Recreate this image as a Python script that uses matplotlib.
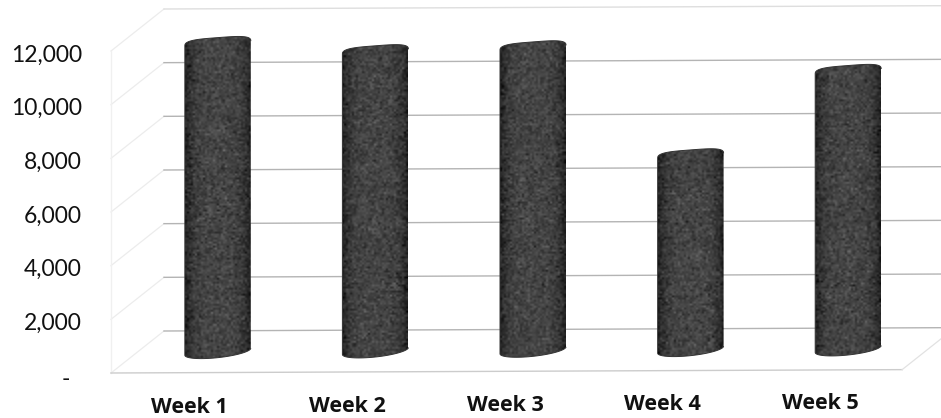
import numpy as np
import matplotlib
matplotlib.use('Agg')
import matplotlib.pyplot as plt
from matplotlib.patches import PathPatch
from matplotlib.path import Path
from matplotlib.transforms import ScaledTranslation

# data
weeks = ['Week 1', 'Week 2', 'Week 3', 'Week 4', 'Week 5']
values = [11480, 11150, 11270, 7220, 10340]
y_ticks = [0, 2000, 4000, 6000, 8000, 10000, 12000]
y_labels = ['-  ', '2,000', '4,000', '6,000', '8,000', '10,000', '12,000']

W, H = 941, 418
fig = plt.figure(figsize=(W / 100, H / 100), dpi=100)
# front plane of the fake 3d box
ax = fig.add_axes([111 / W, 1 - 373 / H, 788 / W, 322 / H])
ax.set_xlim(-0.5, 4.5)
ax.set_ylim(0, 12000)

# pixel sizes turned into data units
px_x = 5 / 788
px_y = 12000 / 322
depth_x = 53 * px_x
depth_y = 42 * px_y
tilt = 25  # the whole scan leans a little


def proj(x, v, d=0.0):
    # x, value and depth (0 front, 1 back) to axes data coords
    return x + d * depth_x, v + d * depth_y + tilt * (x + 0.5)


# walls and floor
x0, x1 = -0.5, 4.5
for v in y_ticks:
    xa, ya = proj(x0, v, 0)
    xb, yb = proj(x0, v, 1)
    ax.plot([xa, xb], [ya, yb], color='#ececec', lw=0.9, clip_on=False, zorder=1)
    xc, yc = proj(x1, v, 1)
    col = '#dedede' if v == 12000 else '#b4b4b4'
    ax.plot([xb, xc], [yb, yc], color=col, lw=1.0, clip_on=False, zorder=1)
xa, ya = proj(x0, 0, 0)
xb, yb = proj(x0, 12000, 0)
ax.plot([xa, xb], [ya, yb], color='#f0f0f0', lw=1, clip_on=False, zorder=1)
xb, yb = proj(x1 + 0.02, 0, 0)
ax.plot([xa, xb], [ya, yb], color='#cccccc', lw=1.0, clip_on=False, zorder=1)
xc, yc = proj(x1 + 0.02, 0, 1)
ax.plot([xb, xc], [yb, yc], color='#e2e2e2', lw=0.9, clip_on=False, zorder=1)

# cylinders
rx = 33 * px_x
b = 6 * px_y
rng = np.random.default_rng(3)  # only for the scan grain, not the values
across = np.linspace(-1, 1, 33)
ramp = 0.27 - 0.13 * across ** 4
t1 = np.linspace(0, np.pi, 60)
t2 = np.linspace(np.pi, 2 * np.pi, 40)
# squarer shoulders on top, like the reference
cap_x = np.sign(np.cos(t1)) * np.abs(np.cos(t1)) ** 0.55
cap_y = np.sin(t1) ** 0.7
for i, v in enumerate(values):
    cx, base = proj(i, 0, 0.5)
    cx += 1.5 * px_x
    top = base + v
    xs = np.r_[cx + rx * cap_x, cx + rx * np.cos(t2)]
    ys = np.r_[top + b * cap_y + 2.5 * px_y * cap_x,
               base + b * np.sin(t2) + 3.5 * px_y * np.cos(t2)]
    outline = PathPatch(Path(np.c_[xs, ys]), facecolor='none', edgecolor='#333333',
                        lw=0.7, zorder=3, clip_on=False)
    ax.add_patch(outline)
    rows = int((v + 4 * b) / px_y / 2)
    grain = ramp + rng.normal(0, 0.05, (rows, ramp.size))
    im = ax.imshow(grain, cmap='gray', vmin=0, vmax=1, aspect='auto', zorder=2,
                   interpolation='bilinear',
                   extent=[cx - rx, cx + rx, base - 2 * b, top + 2 * b])
    im.set_clip_box(fig.bbox)
    im.set_clip_path(outline)
ax.set_xlim(-0.5, 4.5)
ax.set_ylim(0, 12000)

# axes text
ax.set_xticks(range(len(weeks)))
ax.set_xticklabels(weeks, fontfamily='Open Sans', fontweight='bold', fontsize=15.5, color='#111111')
ax.set_yticks(y_ticks)
ax.set_yticklabels(y_labels, fontfamily='Lato', fontsize=16.5, color='#111111')
ax.tick_params(axis='both', length=0)
ax.tick_params(axis='y', pad=21)
ax.tick_params(axis='x', pad=17)
for i, lab in enumerate(ax.get_xticklabels()):
    lab.set_transform(lab.get_transform() + ScaledTranslation(0, i / 100, fig.dpi_scale_trans))
for j, lab in enumerate(ax.get_yticklabels()):
    shift = -0.04 if j == 0 else -0.02
    lab.set_transform(lab.get_transform() + ScaledTranslation(0, shift, fig.dpi_scale_trans))
for s in ax.spines.values():
    s.set_visible(False)
ax.patch.set_alpha(0)

fig.savefig('out.png', dpi=100)
